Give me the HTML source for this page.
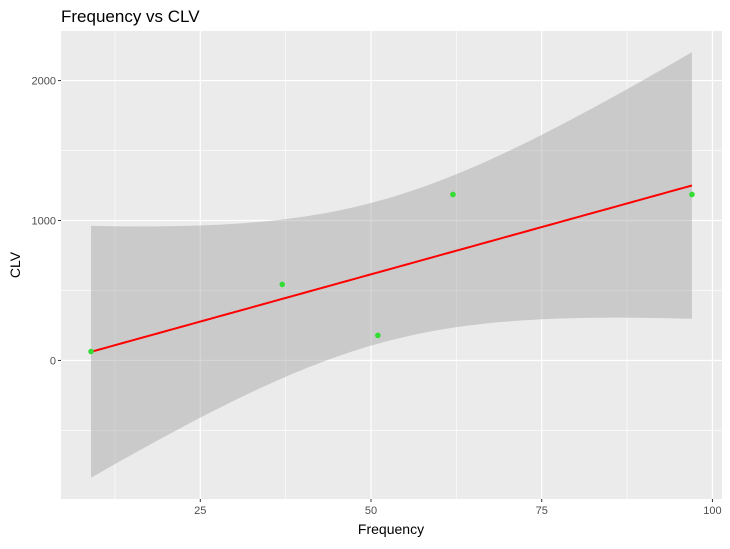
<!DOCTYPE html>
<html><head><meta charset="utf-8"><style>
body{margin:0;background:#fff;font-family:"Liberation Sans",Arial,sans-serif}
</style></head><body>
<svg id="chart" width="730" height="544" viewBox="0 0 730 544" xmlns="http://www.w3.org/2000/svg">
<text x="61" y="22" font-size="17" fill="#000">Frequency vs CLV</text>
<rect id="panel" x="61" y="31" width="661" height="468" fill="#ebebeb"/>
<g id="grid"></g><g id="band"></g><g id="line"></g><g id="pts"></g><g id="axes"></g>
<text x="391" y="534" font-size="14" text-anchor="middle" fill="#000">Frequency</text>
<text transform="translate(20,265) rotate(-90)" font-size="14" text-anchor="middle" fill="#000">CLV</text>
</svg>
<script>
const freq=[9,37,51,62,97];
const clv=[64,543,179,1186,1186];
const xTicks=[25,50,75,100];
const yTicks=[0,1000,2000];
const xMinor=[12.5,37.5,62.5,87.5];
const yMinor=[-500,500,1500];
const NS="http://www.w3.org/2000/svg";
const X0=4.6,X1=101.4,Y0=-990,Y1=2354;
const px0=61,px1=722,py0=499,py1=31;
const sx=v=>px0+(v-X0)/(X1-X0)*(px1-px0);
const sy=v=>py0+(v-Y0)/(Y1-Y0)*(py1-py0);
function mk(tag,attrs,parent){const e=document.createElementNS(NS,tag);for(const k in attrs)e.setAttribute(k,attrs[k]);document.getElementById(parent).appendChild(e);return e;}
// regression
const n=freq.length,mx=freq.reduce((a,b)=>a+b)/n,my=clv.reduce((a,b)=>a+b)/n;
let sxx=0,sxy=0;for(let i=0;i<n;i++){sxx+=(freq[i]-mx)**2;sxy+=(freq[i]-mx)*(clv[i]-my);}
const b=sxy/sxx,a=my-b*mx;
let sse=0;for(let i=0;i<n;i++)sse+=(clv[i]-a-b*freq[i])**2;
const s=Math.sqrt(sse/(n-2)),t=3.182446;
const xmin=Math.min(...freq),xmax=Math.max(...freq);
// grid
xMinor.forEach(v=>{const e=mk('line',{x1:sx(v),x2:sx(v),y1:py1,y2:py0,stroke:'#fff','stroke-width':0.6},'grid');
});
yMinor.forEach(v=>{const e=mk('line',{x1:px0,x2:px1,y1:sy(v),y2:sy(v),stroke:'#fff','stroke-width':0.6},'grid');
});
xTicks.forEach(v=>{const e=mk('line',{x1:sx(v),x2:sx(v),y1:py1,y2:py0,stroke:'#fff','stroke-width':1.2},'grid');

const tk=mk('line',{x1:sx(v),x2:sx(v),y1:py0,y2:py0+3,stroke:'#333','stroke-width':1},'axes');

const tx=mk('text',{x:sx(v),y:py0+15,'font-size':11,'text-anchor':'middle',fill:'#4d4d4d'},'axes');tx.textContent=v;
});
yTicks.forEach(v=>{const e=mk('line',{x1:px0,x2:px1,y1:sy(v),y2:sy(v),stroke:'#fff','stroke-width':1.2},'grid');

const tk=mk('line',{x1:px0-3,x2:px0,y1:sy(v),y2:sy(v),stroke:'#333','stroke-width':1},'axes');

const tx=mk('text',{x:px0-5,y:sy(v)+4,'font-size':11,'text-anchor':'end',fill:'#4d4d4d'},'axes');tx.textContent=v;
});
// band and line
const N=80,up=[],lo=[],ln=[];
for(let i=0;i<=N;i++){const x=xmin+(xmax-xmin)*i/N,f=a+b*x,se=s*Math.sqrt(1/n+(x-mx)**2/sxx);
up.push(sx(x)+','+sy(f+t*se));lo.push(sx(x)+','+sy(f-t*se));ln.push(sx(x)+','+sy(f));}
const band=mk('polygon',{points:up.concat(lo.reverse()).join(' '),fill:'#999','fill-opacity':0.4},'band');

const line=mk('polyline',{points:ln.join(' '),fill:'none',stroke:'#ff0000','stroke-width':2},'line');

freq.forEach((v,i)=>{const c=mk('circle',{cx:sx(v),cy:sy(clv[i]),r:2.8,fill:'#33dd33'},'pts');
});
</script>
</body></html>
